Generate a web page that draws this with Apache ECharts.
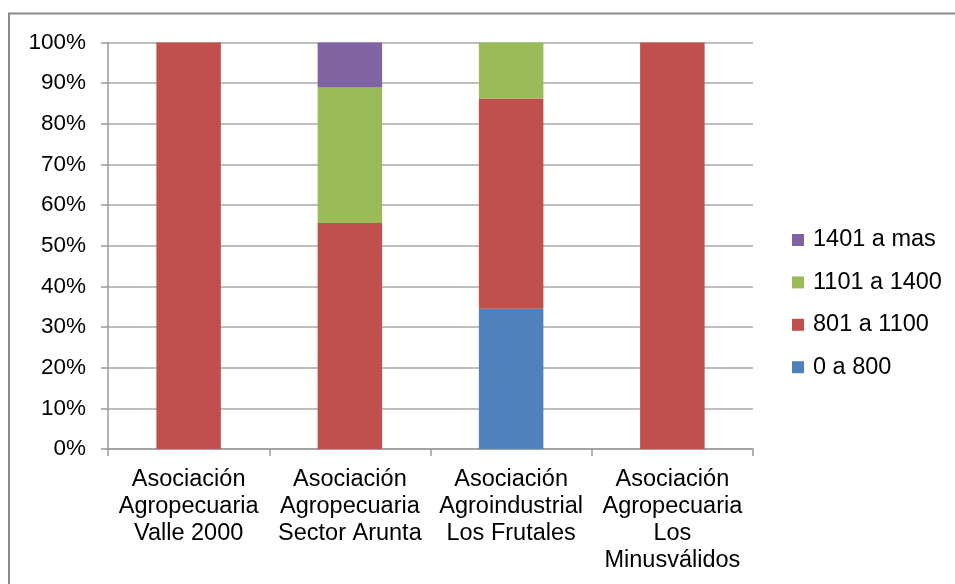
<!DOCTYPE html>
<html>
<head>
<meta charset="utf-8">
<script src="https://cdn.jsdelivr.net/npm/echarts@6/dist/echarts.min.js"></script>
<style>
html,body{margin:0;padding:0;background:#fff;}
#chart{width:955px;height:584px;}
</style>
</head>
<body>
<div id="chart"></div>
<script>
const categories = [
  "Asociación\nAgropecuaria\nValle 2000",
  "Asociación\nAgropecuaria\nSector Arunta",
  "Asociación\nAgroindustrial\nLos Frutales",
  "Asociación\nAgropecuaria\nLos\nMinusválidos"
];
const seriesNames = ["0 a 800", "801 a 1100", "1101 a 1400", "1401 a mas"];
const s0a800 = [0, 0, 34.5, 0];
const s801a1100 = [100, 55.6, 51.7, 100];
const s1101a1400 = [0, 33.3, 13.8, 0];
const s1401amas = [0, 11.1, 0, 0];
const yTicks = [0, 10, 20, 30, 40, 50, 60, 70, 80, 90, 100];
const colors = ["#4F81BD", "#C0504D", "#9BBB59", "#8064A2"];

const values = [s0a800, s801a1100, s1101a1400, s1401amas];
const font = "'Liberation Sans', Arial, sans-serif";

const chart = echarts.init(document.getElementById('chart'), null, {renderer: 'canvas'});
chart.setOption({
  animation: false,
  backgroundColor: '#fff',
  graphic: [{
    type: 'rect',
    shape: {x: 9, y: 13.5, width: 1200, height: 1200},
    style: {fill: 'none', stroke: '#8a8a8a', lineWidth: 2},
    z: -1
  }],
  grid: {left: 108, right: 202, top: 42.5, bottom: 135, containLabel: false},
  legend: {
    orient: 'vertical',
    left: 792,
    top: 228,
    padding: 0,
    itemWidth: 12,
    itemHeight: 12,
    itemGap: 18.4,
    icon: 'rect',
    data: seriesNames.slice().reverse(),
    textStyle: {fontFamily: font, fontSize: 23.5, color: '#000', lineHeight: 24, padding: [0, 0, 0, 4]}
  },
  xAxis: {
    type: 'category',
    data: categories,
    axisLine: {lineStyle: {color: '#9a9a9a', width: 1.5}},
    axisTick: {show: true, length: 7, lineStyle: {color: '#9a9a9a', width: 1.5}},
    axisLabel: {fontFamily: font, fontSize: 23.5, color: '#000', lineHeight: 27, margin: 17, interval: 0}
  },
  yAxis: {
    type: 'value',
    min: yTicks[0],
    max: yTicks[yTicks.length - 1],
    interval: yTicks[1] - yTicks[0],
    axisLine: {show: true, lineStyle: {color: '#9a9a9a', width: 1.5}},
    axisTick: {show: true, inside: false, length: 7, lineStyle: {color: '#9a9a9a', width: 1.5}},
    splitLine: {show: true, lineStyle: {color: '#a8a8a8', width: 1.5}},
    axisLabel: {fontFamily: font, fontSize: 22.5, color: '#000', margin: 22, formatter: '{value}%'}
  },
  series: seriesNames.map((name, i) => ({
    name: name,
    type: 'bar',
    stack: 'total',
    barWidth: '40%',
    itemStyle: {color: colors[i]},
    data: values[i]
  }))
});
</script>
</body>
</html>
